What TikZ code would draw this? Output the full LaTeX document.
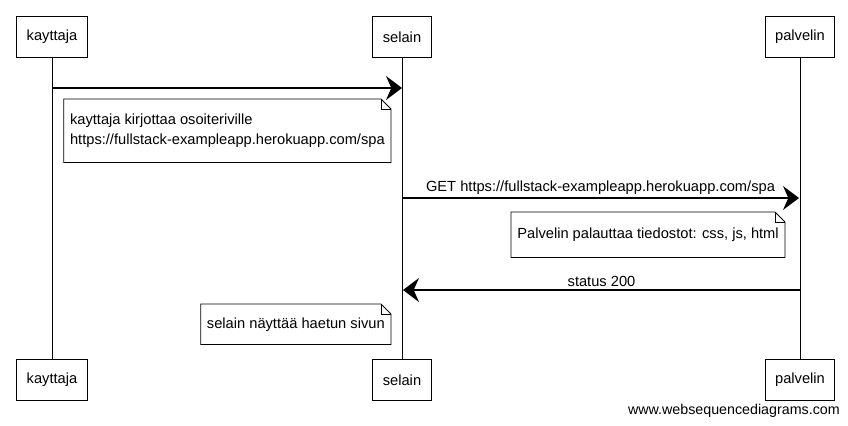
\documentclass[tikz,border=0pt]{standalone}
\usepackage{fontspec}
\setmainfont{Liberation Sans}
\usetikzlibrary{arrows.meta}
\tikzset{
	actor/.style = {draw, line width=0.8pt, inner xsep=7.5pt, minimum height=30.75pt},
	msg/.style = {line width=1.1pt, -{Stealth[length=12pt, width=18pt, inset=4pt]}},
	notebox/.style = {anchor=north east, align=left, inner xsep=4.5pt}
}
\newcommand{\fold}[1]{%
	\draw[line width=0.6pt] (#1.south west) -- (#1.north west) -- ([xshift=-7.5pt]#1.north east)
		-- ([yshift=-7.5pt]#1.north east) -- (#1.south east) -- cycle;
	\draw[line width=0.6pt] ([xshift=-7.5pt]#1.north east) |- ([yshift=-7.5pt]#1.north east);}
\begin{document}
\begin{tikzpicture}[x=0.75pt,y=-0.75pt,font=\fontsize{11}{15}\selectfont]
	\useasboundingbox (0,0) rectangle (848,425);
	\node (K) at (52, 37)	[actor]	{kayttaja};
	\node (S) at (402,37)	[actor]	{selain};
	\node (P) at (800,37)	[actor]	{palvelin};
	\node (K2) at (52, 380)	[actor]	{kayttaja};
	\node (S2) at (402,380)	[actor]	{selain};
	\node (P2) at (800,380)	[actor]	{palvelin};
	\draw[line width=0.7pt] (K) -- (K2);
	\draw[line width=0.7pt] (S) -- (S2);
	\draw[line width=0.7pt] (P) -- (P2);
	% viestit
	\coordinate (k1) at (52, 88);
	\coordinate (s1) at (402,88);
	\coordinate (s2) at (402,198);
	\coordinate (p2) at (799,198);
	\coordinate (p3) at (800,290);
	\coordinate (s3) at (403,290);
	\draw[msg] (k1) -- (s1);
	\draw[msg] (s2) -- node[above, yshift=-1pt] {GET https://fullstack-exampleapp.herokuapp.com/spa} (p2);
	\draw[msg] (p3) -- node[above, yshift=-1pt] {status 200} (s3);
	% muistiinpanot
	\node (N1) at (391,99)	[notebox, minimum height=47.25pt]	{kayttaja kirjottaa osoiteriville\\https://fullstack-exampleapp.herokuapp.com/spa};
	\node (N2) at (785,212)	[notebox, minimum height=33.75pt]	{Palvelin palauttaa tiedostot: css, js, html};
	\node (N3) at (391,304)	[notebox, minimum height=30pt]	{selain näyttää haetun sivun};
	\fold{N1}
	\fold{N2}
	\fold{N3}
	\node (W) at (840,418)	[anchor=south east, inner sep=0pt, font=\fontsize{10.7}{12}\selectfont]	{www.websequencediagrams.com};
\end{tikzpicture}
\end{document}
